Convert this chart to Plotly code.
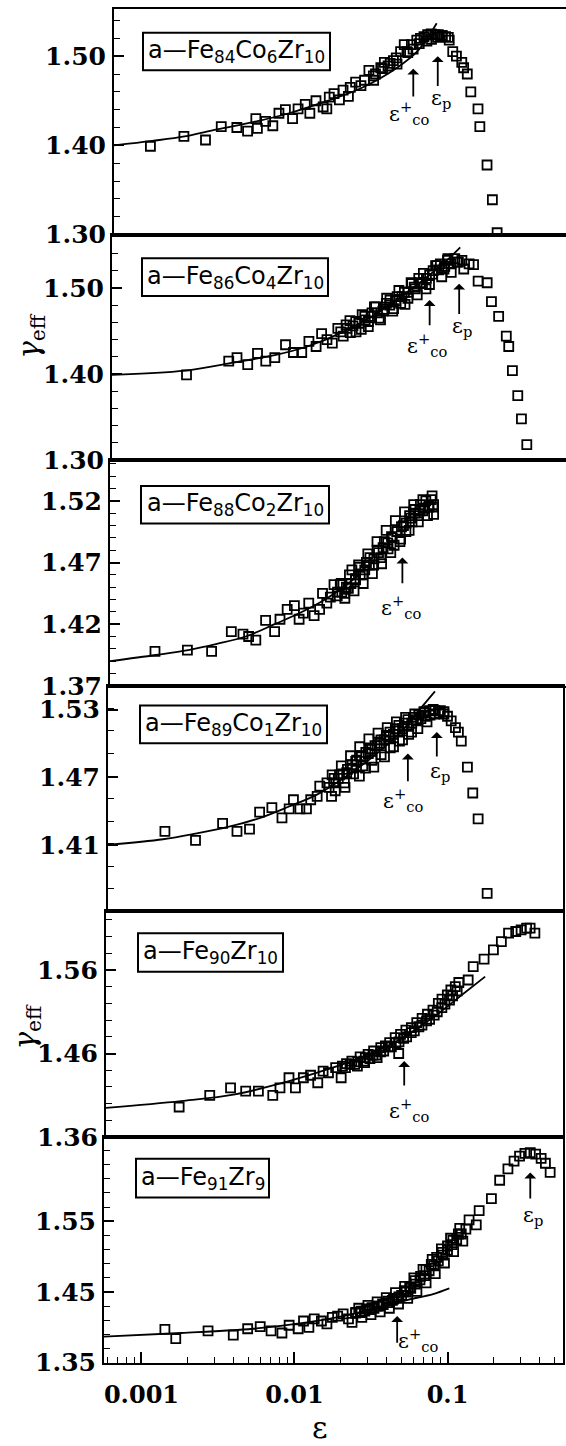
import numpy as np
import plotly.graph_objects as go

W, H = 566, 1446

# ---------------- data (x read as log10(epsilon), y = gamma_eff) ----------------
p1_logeps = [-3.007, -2.788, -2.647, -2.544, -2.442, -2.372, -2.318, -2.308, -2.254, -2.207,
             -2.167, -2.125, -2.078, -2.042, -1.995, -1.965, -1.925, -1.878, -1.854, -1.838,
             -1.807, -1.772, -1.748, -1.713, -1.701, -1.666, -1.631, -1.607, -1.579, -1.548,
             -1.536, -1.501, -1.478, -1.454, -1.419, -1.395, -1.372, -1.348, -1.325, -1.301,
             -1.266, -1.242, -1.219, -1.195, -1.172, -1.148, -1.125, -1.101, -1.078, -1.054,
             -1.031, -1.007, -0.972, -0.960, -0.936, -0.913, -0.866, -0.854, -0.807, -0.772,
             -0.741,
             -1.33, -1.29, -1.25, -1.20, -1.17, -1.13, -1.10, -1.06, -1.40, -1.44, -1.49, -1.55]
p1_gamma = [1.399, 1.410, 1.406, 1.421, 1.420, 1.416, 1.430, 1.419, 1.427, 1.422,
            1.436, 1.440, 1.430, 1.441, 1.446, 1.436, 1.450, 1.443, 1.441, 1.454,
            1.458, 1.451, 1.462, 1.455, 1.465, 1.471, 1.467, 1.473, 1.484, 1.473,
            1.480, 1.487, 1.493, 1.489, 1.495, 1.491, 1.505, 1.513, 1.504, 1.513,
            1.518, 1.520, 1.522, 1.524, 1.525, 1.524, 1.524, 1.523, 1.522, 1.518,
            1.505, 1.500, 1.493, 1.487, 1.480, 1.460, 1.441, 1.421, 1.378, 1.339,
            1.302,
            1.505, 1.508, 1.514, 1.517, 1.519, 1.521, 1.523, 1.521, 1.498, 1.492, 1.486, 1.478]
p1_fit_logeps = [-3.245, -2.995, -2.784, -2.572, -2.336, -2.101, -1.866, -1.631, -1.395, -1.254, -1.136]
p1_fit_gamma = [1.400, 1.405, 1.410, 1.418, 1.426, 1.436, 1.449, 1.464, 1.487, 1.507, 1.537]

p2_logeps = [-2.758, -2.482, -2.428, -2.358, -2.294, -2.240, -2.181, -2.111, -2.059, -2.005,
             -1.958, -1.911, -1.875, -1.840, -1.805, -1.769, -1.734, -1.715, -1.687, -1.652,
             -1.616, -1.593, -1.569, -1.546, -1.522, -1.499, -1.475, -1.452, -1.428, -1.405,
             -1.381, -1.358, -1.334, -1.311, -1.287, -1.264, -1.240, -1.216, -1.193, -1.169,
             -1.146, -1.122, -1.099, -1.075, -1.052, -1.028, -1.005, -0.981, -0.958, -0.946,
             -0.911, -0.882, -0.852, -0.793, -0.765, -0.718, -0.668, -0.652, -0.628, -0.593,
             -0.569, -0.534,
             -1.75, -1.71, -1.67, -1.63, -1.59, -1.55, -1.51, -1.47, -1.43, -1.39, -1.35,
             -1.31, -1.27, -1.23, -1.19, -1.15, -1.11, -1.07, -1.03, -0.99,
             -1.69, -1.61, -1.53, -1.45, -1.37, -1.29, -1.21, -1.13, -1.05,
             -1.65, -1.57, -1.49, -1.41, -1.33, -1.25, -1.17, -1.09]
p2_gamma = [1.399, 1.415, 1.419, 1.411, 1.424, 1.415, 1.419, 1.434, 1.425, 1.425,
            1.438, 1.432, 1.447, 1.440, 1.436, 1.453, 1.444, 1.457, 1.448, 1.461,
            1.452, 1.467, 1.461, 1.471, 1.478, 1.465, 1.473, 1.482, 1.486, 1.476,
            1.490, 1.482, 1.495, 1.488, 1.505, 1.499, 1.511, 1.505, 1.499, 1.515,
            1.520, 1.526, 1.528, 1.522, 1.532, 1.518, 1.534, 1.530, 1.532, 1.522,
            1.528, 1.527, 1.508, 1.506, 1.484, 1.467, 1.444, 1.432, 1.404, 1.375,
            1.348, 1.318,
            1.449, 1.453, 1.456, 1.459, 1.463, 1.467, 1.471, 1.475, 1.480, 1.485, 1.490,
            1.495, 1.501, 1.506, 1.511, 1.516, 1.521, 1.525, 1.528, 1.530,
            1.462, 1.469, 1.478, 1.488, 1.497, 1.506, 1.517, 1.526, 1.534,
            1.449, 1.455, 1.463, 1.473, 1.481, 1.492, 1.504, 1.513]
p2_fit_logeps = [-3.245, -2.769, -2.464, -2.181, -1.969, -1.734, -1.499, -1.264, -1.075, -0.969]
p2_fit_gamma = [1.399, 1.404, 1.413, 1.422, 1.432, 1.449, 1.472, 1.502, 1.529, 1.547]

p3_logeps = [-2.951, -2.739, -2.581, -2.452, -2.376, -2.339, -2.292, -2.228, -2.169, -2.134,
             -2.087, -2.040, -2.009, -1.981, -1.946, -1.911, -1.875, -1.856, -1.828, -1.805,
             -1.781, -1.758, -1.734, -1.711, -1.687, -1.664, -1.640, -1.616, -1.593, -1.569,
             -1.546, -1.522, -1.499, -1.475, -1.452, -1.428, -1.405, -1.388, -1.369, -1.346,
             -1.327, -1.311, -1.287, -1.271, -1.252, -1.233, -1.216, -1.200, -1.181, -1.162,
             -1.146, -1.134,
             -1.76, -1.73, -1.70, -1.67, -1.64, -1.61, -1.58, -1.55, -1.52, -1.49, -1.46,
             -1.43, -1.40, -1.37, -1.34, -1.31, -1.28, -1.25, -1.22, -1.19, -1.16, -1.13,
             -1.74, -1.68, -1.62, -1.56, -1.50, -1.44, -1.38, -1.32, -1.26, -1.20, -1.14,
             -1.71, -1.65, -1.59, -1.53, -1.47, -1.41, -1.35, -1.29, -1.23, -1.17, -1.13]
p3_gamma = [1.398, 1.399, 1.398, 1.414, 1.412, 1.410, 1.407, 1.423, 1.414, 1.424,
            1.432, 1.435, 1.424, 1.429, 1.437, 1.427, 1.432, 1.445, 1.437, 1.442,
            1.452, 1.446, 1.453, 1.445, 1.449, 1.464, 1.457, 1.466, 1.460, 1.470,
            1.474, 1.468, 1.480, 1.474, 1.487, 1.481, 1.491, 1.484, 1.495, 1.489,
            1.500, 1.495, 1.508, 1.503, 1.513, 1.508, 1.517, 1.512, 1.520, 1.515,
            1.521, 1.515,
            1.443, 1.446, 1.450, 1.453, 1.456, 1.460, 1.464, 1.468, 1.473, 1.478, 1.482,
            1.486, 1.490, 1.495, 1.499, 1.502, 1.506, 1.510, 1.512, 1.514, 1.516, 1.517,
            1.452, 1.460, 1.468, 1.477, 1.487, 1.496, 1.504, 1.511, 1.517, 1.521, 1.524,
            1.441, 1.447, 1.453, 1.461, 1.469, 1.478, 1.487, 1.496, 1.503, 1.508, 1.509]
p3_fit_logeps = [-3.245, -2.946, -2.734, -2.546, -2.358, -2.169, -2.005, -1.840, -1.699, -1.605]
p3_fit_gamma = [1.390, 1.395, 1.399, 1.404, 1.410, 1.420, 1.429, 1.440, 1.452, 1.461]

p4_logeps = [-2.873, -2.673, -2.496, -2.402, -2.320, -2.254, -2.174, -2.108, -2.061, -2.033,
             -1.991, -1.948, -1.920, -1.878, -1.861, -1.814, -1.784, -1.767, -1.732, -1.696,
             -1.685, -1.649, -1.626, -1.602, -1.591, -1.562, -1.544, -1.520, -1.508, -1.485,
             -1.461, -1.438, -1.426, -1.402, -1.379, -1.367, -1.344, -1.320, -1.308, -1.285,
             -1.261, -1.249, -1.214, -1.179, -1.144, -1.108, -1.073, -1.049, -1.026, -1.002,
             -0.974, -0.955, -0.936, -0.896, -0.861, -0.826, -0.767,
             -1.80, -1.77, -1.74, -1.71, -1.68, -1.65, -1.62, -1.59, -1.56, -1.53, -1.50,
             -1.47, -1.44, -1.41, -1.38, -1.35, -1.32, -1.29, -1.26, -1.23, -1.20, -1.17,
             -1.14, -1.11, -1.08, -1.05,
             -1.78, -1.72, -1.66, -1.60, -1.54, -1.48, -1.42, -1.36, -1.30, -1.24, -1.18, -1.12,
             -1.76, -1.70, -1.64, -1.58, -1.52, -1.46, -1.40, -1.34, -1.28, -1.22, -1.16]
p4_gamma = [1.422, 1.414, 1.429, 1.422, 1.424, 1.439, 1.443, 1.434, 1.442, 1.450,
            1.442, 1.442, 1.450, 1.453, 1.462, 1.465, 1.453, 1.469, 1.472, 1.461,
            1.474, 1.478, 1.484, 1.471, 1.488, 1.478, 1.491, 1.495, 1.479, 1.498,
            1.503, 1.488, 1.507, 1.510, 1.497, 1.513, 1.516, 1.503, 1.518, 1.521,
            1.510, 1.523, 1.525, 1.527, 1.529, 1.529, 1.529, 1.528, 1.524, 1.520,
            1.514, 1.510, 1.502, 1.479, 1.456, 1.433, 1.367,
            1.461, 1.465, 1.469, 1.473, 1.477, 1.481, 1.485, 1.489, 1.492, 1.495, 1.498,
            1.500, 1.503, 1.506, 1.508, 1.511, 1.513, 1.515, 1.518, 1.520, 1.522, 1.524,
            1.525, 1.526, 1.527, 1.526,
            1.472, 1.480, 1.489, 1.497, 1.504, 1.509, 1.514, 1.519, 1.523, 1.526, 1.528, 1.530,
            1.458, 1.465, 1.473, 1.480, 1.485, 1.490, 1.496, 1.502, 1.508, 1.513, 1.519]
p4_fit_logeps = [-3.245, -2.885, -2.673, -2.461, -2.249, -2.061, -1.873, -1.685, -1.496, -1.332, -1.202, -1.108]
p4_fit_gamma = [1.410, 1.415, 1.420, 1.426, 1.434, 1.444, 1.455, 1.471, 1.490, 1.510, 1.531, 1.546]

p5_logeps = [-2.767, -2.567, -2.431, -2.332, -2.249, -2.155, -2.108, -2.049, -2.007, -1.955,
             -1.908, -1.861, -1.826, -1.791, -1.744, -1.708, -1.673, -1.638, -1.602, -1.584,
             -1.555, -1.532, -1.496, -1.473, -1.449, -1.419, -1.391, -1.355, -1.332, -1.320,
             -1.285, -1.249, -1.214, -1.179, -1.144, -1.108, -1.073, -1.049, -1.014, -0.991,
             -0.962, -0.939, -0.878, -0.845, -0.774, -0.713, -0.661, -0.614, -0.567, -0.532,
             -0.496, -0.473, -0.442,
             -1.70, -1.65, -1.60, -1.55, -1.50, -1.45, -1.40, -1.35, -1.30, -1.25, -1.20,
             -1.15, -1.10, -1.05, -1.00, -0.95,
             -1.68, -1.62, -1.56, -1.52, -1.48, -1.43, -1.38, -1.33, -1.28, -1.23, -1.18,
             -1.13, -1.08, -1.03, -0.98]
p5_gamma = [1.396, 1.410, 1.419, 1.415, 1.415, 1.410, 1.419, 1.431, 1.419, 1.431,
            1.434, 1.425, 1.439, 1.437, 1.443, 1.431, 1.448, 1.451, 1.445, 1.456,
            1.449, 1.459, 1.463, 1.455, 1.467, 1.469, 1.473, 1.479, 1.460, 1.483,
            1.488, 1.491, 1.497, 1.502, 1.507, 1.512, 1.520, 1.525, 1.530, 1.536,
            1.540, 1.545, 1.548, 1.564, 1.573, 1.584, 1.594, 1.604, 1.606, 1.608,
            1.610, 1.610, 1.604,
            1.445, 1.447, 1.450, 1.455, 1.458, 1.462, 1.468, 1.473, 1.478, 1.485, 1.492,
            1.499, 1.506, 1.515, 1.524, 1.535,
            1.443, 1.447, 1.451, 1.454, 1.458, 1.463, 1.468, 1.474, 1.480, 1.487, 1.494,
            1.501, 1.510, 1.519, 1.529]
p5_fit_logeps = [-3.245, -2.755, -2.402, -2.049, -1.814, -1.579, -1.344, -1.108, -0.920, -0.767]
p5_fit_gamma = [1.395, 1.403, 1.411, 1.427, 1.440, 1.455, 1.475, 1.503, 1.530, 1.552]

p6_logeps = [-2.847, -2.776, -2.565, -2.400, -2.306, -2.224, -2.153, -2.082, -2.035, -1.976,
             -1.941, -1.906, -1.871, -1.824, -1.788, -1.753, -1.718, -1.682, -1.647, -1.624,
             -1.600, -1.565, -1.529, -1.494, -1.459, -1.424, -1.388, -1.353, -1.318, -1.282,
             -1.247, -1.212, -1.176, -1.141, -1.106, -1.071, -1.035, -1.000, -0.965, -0.929,
             -0.859, -0.812, -0.793, -0.713, -0.659, -0.605, -0.565, -0.529, -0.494, -0.459,
             -0.424, -0.388, -0.360, -0.329,
             -1.60, -1.57, -1.54, -1.51, -1.48, -1.45, -1.42, -1.39, -1.36, -1.33, -1.30,
             -1.27, -1.24, -1.21, -1.18, -1.15, -1.12, -1.09, -1.06, -1.03, -1.00, -0.97,
             -0.94, -0.91, -0.88,
             -1.58, -1.52, -1.46, -1.40, -1.34, -1.28, -1.22, -1.16, -1.10, -1.04, -0.98, -0.92,
             -1.56, -1.50, -1.44, -1.38, -1.32, -1.26, -1.20, -1.14, -1.08, -1.02, -0.96, -0.90]
p6_gamma = [1.397, 1.384, 1.395, 1.389, 1.398, 1.401, 1.395, 1.392, 1.403, 1.398,
            1.409, 1.400, 1.412, 1.409, 1.405, 1.414, 1.416, 1.419, 1.412, 1.407,
            1.421, 1.423, 1.426, 1.428, 1.430, 1.433, 1.437, 1.440, 1.443, 1.452,
            1.457, 1.466, 1.472, 1.482, 1.489, 1.499, 1.506, 1.515, 1.523, 1.532,
            1.552, 1.545, 1.565, 1.582, 1.608, 1.624, 1.635, 1.642, 1.646, 1.647,
            1.645, 1.639, 1.632, 1.619,
            1.420, 1.421, 1.423, 1.425, 1.427, 1.430, 1.432, 1.435, 1.438, 1.441, 1.445,
            1.450, 1.455, 1.461, 1.467, 1.473, 1.480, 1.487, 1.494, 1.502, 1.509, 1.517,
            1.524, 1.532, 1.539,
            1.427, 1.431, 1.436, 1.442, 1.449, 1.458, 1.470, 1.482, 1.496, 1.511, 1.526, 1.540,
            1.414, 1.418, 1.422, 1.427, 1.433, 1.441, 1.451, 1.463, 1.476, 1.491, 1.507, 1.522]
p6_fit_logeps = [-3.245, -2.741, -2.271, -1.918, -1.682, -1.447, -1.259, -1.094, -0.988]
p6_fit_gamma = [1.387, 1.392, 1.398, 1.407, 1.416, 1.428, 1.439, 1.447, 1.455]

sample_labels = ["a\u2014Fe<sub>84</sub>Co<sub>6</sub>Zr<sub>10</sub>",
                 "a\u2014Fe<sub>86</sub>Co<sub>4</sub>Zr<sub>10</sub>",
                 "a\u2014Fe<sub>88</sub>Co<sub>2</sub>Zr<sub>10</sub>",
                 "a\u2014Fe<sub>89</sub>Co<sub>1</sub>Zr<sub>10</sub>",
                 "a\u2014Fe<sub>90</sub>Zr<sub>10</sub>",
                 "a\u2014Fe<sub>91</sub>Zr<sub>9</sub>"]

y_ticks = [[1.30, 1.40, 1.50], [1.30, 1.40, 1.50], [1.37, 1.42, 1.47, 1.52],
           [1.35, 1.41, 1.47, 1.53], [1.36, 1.46, 1.56], [1.35, 1.45, 1.55]]
y_ranges = [[1.30, 1.553], [1.30, 1.562], [1.37, 1.553], [1.351, 1.551], [1.36, 1.630], [1.35, 1.669]]
y_minor = [0.02, 0.02, 0.01, 0.02, 0.02, 0.02]
x_ticks = [0.001, 0.01, 0.1]
x_tick_text = ["0.001", "0.01", "0.1"]

# arrows: (label, log10 eps, gamma head, gamma tail, label log10 eps, label gamma)
CO = "\u03b5<sup>+</sup><sub>co</sub>"
EP = "\u03b5<sub>p</sub>"
arrows = [
    [(CO, -1.289, 1.486, 1.453, -1.315, 1.436), (EP, -1.129, 1.500, 1.465, -1.105, 1.452)],
    [(CO, -1.169, 1.486, 1.455, -1.185, 1.434), (EP, -0.976, 1.505, 1.468, -0.960, 1.455)],
    [(CO, -1.334, 1.474, 1.452, -1.340, 1.434)],
    [(CO, -1.285, 1.491, 1.465, -1.320, 1.450), (EP, -1.096, 1.510, 1.487, -1.078, 1.475)],
    [(CO, -1.296, 1.451, 1.420, -1.265, 1.393)],
    [(CO, -1.329, 1.416, 1.376, -1.195, 1.382), (EP, -0.459, 1.619, 1.580, -0.440, 1.558)],
]

# ---------------- layout geometry (pixels) ----------------
panel_top = [9, 237, 465, 693, 921, 1149]
panel_h = 228
shift = [10, 8, 6, 4, 2, 0]
px_per_dec = 153.0
boxes = [(143, 33, 330, 71), (142, 261, 328, 299), (141, 491, 329, 529),
         (140, 713, 327, 751), (138, 943, 283, 982), (136, 1171, 269, 1210)]

pts_x = [p1_logeps, p2_logeps, p3_logeps, p4_logeps, p5_logeps, p6_logeps]
pts_y = [p1_gamma, p2_gamma, p3_gamma, p4_gamma, p5_gamma, p6_gamma]
fit_x = [p1_fit_logeps, p2_fit_logeps, p3_fit_logeps, p4_fit_logeps, p5_fit_logeps, p6_fit_logeps]
fit_y = [p1_fit_gamma, p2_fit_gamma, p3_fit_gamma, p4_fit_gamma, p5_fit_gamma, p6_fit_gamma]

fig = go.Figure()
layout = dict(width=W, height=H, margin=dict(l=0, r=0, t=0, b=0),
              paper_bgcolor="white", plot_bgcolor="white", showlegend=False)
annotations = []
shapes = []
YFONT = dict(family="DejaVu Serif", size=25, color="black", weight="bold")
XFONT = dict(family="DejaVu Serif", size=24, color="black", weight="bold")

for i in range(6):
    s = shift[i]
    left = 104 + s
    right = 566 if i < 3 else 563
    xr = [-3.245, -3 + (right - 141.5 - s) / px_per_dec]
    top = panel_top[i]
    bot = top + panel_h
    xa = "xaxis" if i == 0 else f"xaxis{i+1}"
    ya = "yaxis" if i == 0 else f"yaxis{i+1}"
    xr_ = "x" if i == 0 else f"x{i+1}"
    yr_ = "y" if i == 0 else f"y{i+1}"
    last = (i == 5)
    layout[xa] = dict(
        type="log", range=xr, domain=[left / W, right / W], anchor=yr_,
        showline=True, linecolor="black", linewidth=2, mirror=True,
        showgrid=False, zeroline=False,
        ticks="inside" if last else "", ticklen=11, tickwidth=1.6, tickcolor="black",
        tickvals=x_ticks if last else [], ticktext=x_tick_text if last else [],
        showticklabels=last, tickfont=XFONT, ticklabelstandoff=9,
        minor=dict(ticks="inside", ticklen=6, tickwidth=1.4, tickcolor="black",
                   tickvals=[m * d for d in [0.0001, 0.001, 0.01, 0.1] for m in range(2, 10)])
        if last else dict(ticks=""),
    )
    layout[ya] = dict(
        range=y_ranges[i], domain=[1 - bot / H, 1 - top / H], anchor=xr_,
        showline=True, linecolor="black", linewidth=2, mirror=(i >= 3),
        showgrid=False, zeroline=False,
        ticks="inside", ticklen=10, tickwidth=1.6, tickcolor="black",
        tickvals=y_ticks[i], ticktext=[f"{v:.2f}" for v in y_ticks[i]],
        tickfont=YFONT, ticklabelstandoff=1,
        minor=dict(ticks="inside", ticklen=6, tickwidth=1.4, tickcolor="black",
                   tick0=y_ranges[i][0], dtick=y_minor[i]),
    )
    fig.add_trace(go.Scatter(
        x=10 ** np.array(fit_x[i]), y=fit_y[i], mode="lines",
        line=dict(color="black", width=1.8, shape="spline"), xaxis=xr_, yaxis=yr_))
    fig.add_trace(go.Scatter(
        x=10 ** np.array(pts_x[i]), y=pts_y[i], mode="markers",
        marker=dict(symbol="square-open", size=9, color="black", line=dict(width=1.8)),
        xaxis=xr_, yaxis=yr_, cliponaxis=True))

    # sample label box
    bx0, by0, bx1, by1 = boxes[i]
    shapes.append(dict(type="rect", xref="paper", yref="paper",
                       x0=bx0 / W, x1=bx1 / W, y0=1 - by1 / H, y1=1 - by0 / H,
                       line=dict(color="black", width=2), fillcolor="white"))
    annotations.append(dict(text=sample_labels[i], xref="paper", yref="paper",
                            x=(bx0 + bx1) / 2 / W, y=1 - (by0 + by1) / 2 / H,
                            showarrow=False, xanchor="center", yanchor="middle",
                            font=dict(family="DejaVu Sans", size=24, color="black")))

    for (lab, lx, gh, gt, tx, ty) in arrows[i]:
        annotations.append(dict(x=lx, y=gh, ax=lx, ay=gt, xref=xr_, yref=yr_,
                                axref=xr_, ayref=yr_, text="", showarrow=True,
                                arrowhead=1, arrowsize=1.1, arrowwidth=1.8,
                                arrowcolor="black"))
        annotations.append(dict(x=tx, y=ty, xref=xr_, yref=yr_, text=lab,
                                showarrow=False, xanchor="center", yanchor="middle",
                                font=dict(family="DejaVu Serif", size=21, color="black")))

# axis titles
for (cx, cy) in [(31, 340), (27, 1038)]:
    annotations.append(dict(text="<i>\u03b3</i><sub>eff</sub>", xref="paper", yref="paper",
                            x=cx / W, y=1 - cy / H, showarrow=False, textangle=-90,
                            xanchor="center", yanchor="middle",
                            font=dict(family="DejaVu Serif", size=29, color="black")))
annotations.append(dict(text="\u03b5", xref="paper", yref="paper", x=320 / W, y=1 - 1442 / H,
                        showarrow=False, xanchor="center", yanchor="middle",
                        font=dict(family="DejaVu Serif", size=30, color="black")))

layout["annotations"] = annotations
layout["shapes"] = shapes
fig.update_layout(**layout)
fig.write_html("out.html")
